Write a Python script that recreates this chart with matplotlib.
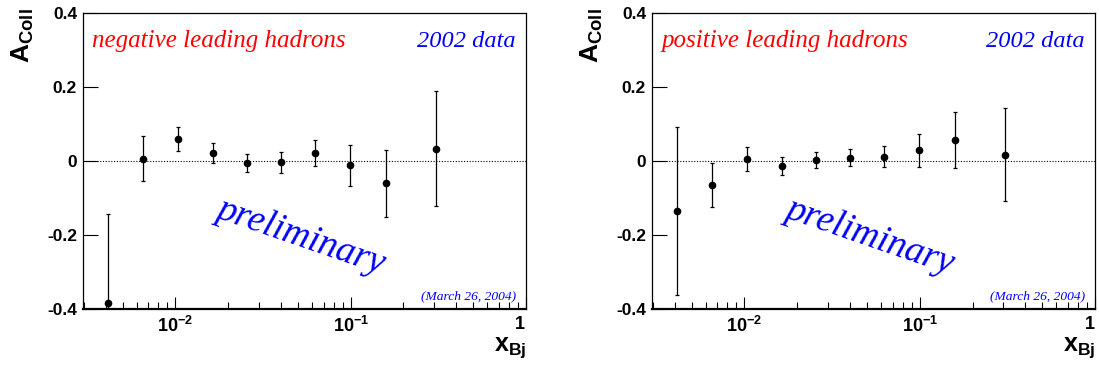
import numpy as np
import matplotlib
matplotlib.use("Agg")
import matplotlib.pyplot as plt
from matplotlib.ticker import FixedLocator, NullFormatter, NullLocator

plt.rcParams['mathtext.fontset'] = 'custom'
plt.rcParams['mathtext.bf'] = 'Liberation Sans:bold'
plt.rcParams['mathtext.rm'] = 'Liberation Sans:bold'
plt.rcParams['mathtext.it'] = 'Liberation Sans:bold'
plt.rcParams['font.family'] = 'Liberation Sans'

# x_Bj bins (same for both charges)
x_bj = [0.0041, 0.0065, 0.0104, 0.0163, 0.0255, 0.0398, 0.0622, 0.099, 0.158, 0.305]

# negative leading hadrons
neg_a = [-0.384, 0.006, 0.059, 0.021, -0.005, -0.004, 0.021, -0.012, -0.060, 0.033]
neg_err = [0.242, 0.061, 0.033, 0.027, 0.025, 0.028, 0.035, 0.055, 0.090, 0.155]

# positive leading hadrons
pos_a = [-0.135, -0.065, 0.005, -0.014, 0.002, 0.009, 0.012, 0.029, 0.057, 0.017]
pos_err = [0.228, 0.060, 0.032, 0.025, 0.022, 0.023, 0.029, 0.044, 0.075, 0.125]

panels = [("negative leading hadrons", neg_a, neg_err),
          ("positive leading hadrons", pos_a, pos_err)]

yticks = [-0.4, -0.2, 0, 0.2, 0.4]
ylabels = ["-0.4", "-0.2", "0", "0.2", "0.4"]

fig = plt.figure(figsize=(10.99, 3.68), dpi=100)
lefts = [0.0755, 0.5933]
for i, (title, a, err) in enumerate(panels):
    ax = fig.add_axes([lefts[i], 0.1603, 0.4031, 0.8043])
    ax.set_xscale('log')
    ax.set_xlim(0.00297, 1.0)
    ax.set_ylim(-0.4, 0.4)

    ax.axhline(0, color='black', lw=0.8, ls=(0, (1, 1.5)), zorder=1)
    ax.errorbar(x_bj, a, yerr=err, fmt='o', color='black', ms=4.5,
                elinewidth=0.9, capsize=1.2, capthick=0.9, zorder=3)

    # ticks
    ax.set_yticks(yticks)
    ax.set_yticklabels(ylabels, fontsize=12.5, fontweight='bold')
    ax.yaxis.set_minor_locator(NullLocator())
    ax.set_xticks([0.01, 0.1, 1.0])
    ax.set_xticklabels([r'$\mathbf{10^{-2}}$', r'$\mathbf{10^{-1}}$', r'$\mathbf{1}$'],
                       fontsize=13)
    ax.get_xticklabels()[-1].set_ha('right')  # ROOT puts the "1" inside the frame
    minors = [m * 10.0 ** e for e in (-3, -2, -1) for m in range(2, 10)]
    ax.xaxis.set_minor_locator(FixedLocator(minors))
    ax.xaxis.set_minor_formatter(NullFormatter())
    ax.tick_params(axis='y', which='major', direction='in', length=11, width=0.8,
                   pad=4.3, right=False)
    ax.tick_params(axis='x', which='major', direction='in', length=9, width=0.8,
                   pad=5, top=False)
    ax.tick_params(axis='x', which='minor', direction='in', length=5, width=0.8,
                   top=False)
    for s in ax.spines.values():
        s.set_linewidth(0.9)
    ax.spines['bottom'].set_linewidth(1.6)

    # axis titles
    ax.text(-0.135, 1.017, r'$\mathbf{A_{Coll}}$', transform=ax.transAxes,
            rotation=90, ha='center', va='top', fontsize=19)
    ax.text(1.0, -0.14, r'$\mathbf{x_{Bj}}$', transform=ax.transAxes,
            ha='right', va='baseline', fontsize=18)

    # annotations
    ax.text(0.0214, 0.886, title, transform=ax.transAxes, color='red',
            family='Liberation Serif', style='italic', fontsize=18, va='baseline')
    ax.text(0.977, 0.886, "2002 data", transform=ax.transAxes, color='blue',
            family='Liberation Serif', style='italic', fontsize=17.6, va='baseline',
            ha='right')
    ax.text(0.492, 0.247, "preliminary", transform=ax.transAxes, color='blue',
            family='Liberation Serif', style='italic', fontsize=27,
            rotation=-19, ha='center', va='center')
    ax.text(0.977, 0.034, "(March 26, 2004)", transform=ax.transAxes,
            color='blue', family='Liberation Serif', style='italic',
            fontsize=9.7, ha='right', va='baseline')

fig.savefig("out.png", dpi=100)
